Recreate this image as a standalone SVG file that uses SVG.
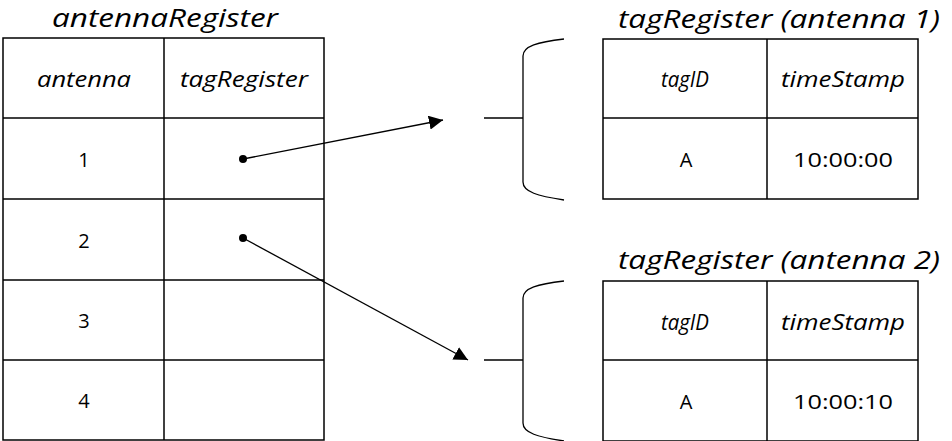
<svg xmlns="http://www.w3.org/2000/svg" width="952" height="441" viewBox="0 0 952 441">
  <style>
    .grid { fill: none; stroke: #000; stroke-width: 1.5; }
    .t { font-family: "Open Sans", "Noto Sans", sans-serif; fill: #000; text-anchor: middle; }
    .it { font-style: italic; }
    .title { font-size: 25px; }
    .hd { font-size: 21px; }
    .cell { font-size: 20px; }
    .wire { fill: none; stroke: #000; stroke-width: 1.3; }
    .brace { fill: none; stroke: #000; stroke-width: 1.3; }
  </style>
  <defs>
    <marker id="arrow" viewBox="0 0 10 10" refX="10" refY="5" markerWidth="14" markerHeight="14" markerUnits="userSpaceOnUse" orient="auto">
      <path d="M0,0 L10,5 L0,10 Z" fill="#000"/>
    </marker>
  </defs>

  <!-- antennaRegister table -->
  <g id="antennaRegister">
    <text class="t it title" x="165" y="27" textLength="226" lengthAdjust="spacingAndGlyphs">antennaRegister</text>
    <rect class="grid" x="3" y="38" width="321" height="402"/>
    <line class="grid" x1="164" y1="38" x2="164" y2="440"/>
    <line class="grid" x1="3" y1="118" x2="324" y2="118"/>
    <line class="grid" x1="3" y1="199" x2="324" y2="199"/>
    <line class="grid" x1="3" y1="280" x2="324" y2="280"/>
    <line class="grid" x1="3" y1="360" x2="324" y2="360"/>
    <text class="t it hd" x="84" y="87" textLength="94" lengthAdjust="spacingAndGlyphs">antenna</text>
    <text class="t it hd" x="244" y="87" textLength="128" lengthAdjust="spacingAndGlyphs">tagRegister</text>
    <text class="t cell" x="84" y="167">1</text>
    <text class="t cell" x="84" y="248">2</text>
    <text class="t cell" x="84" y="328">3</text>
    <text class="t cell" x="84" y="408">4</text>
  </g>

  <!-- tagRegister for antenna 1 -->
  <g id="tagRegister1">
    <text class="t it title" x="779" y="28" textLength="322" lengthAdjust="spacingAndGlyphs">tagRegister (antenna 1)</text>
    <path class="brace" d="M484,118 L523,118 M564,39 C538,42 523,46 523,56 L523,182 C523,192 538,196 564,200"/>
    <rect class="grid" x="603" y="39" width="315" height="160"/>
    <line class="grid" x1="767" y1="39" x2="767" y2="199"/>
    <line class="grid" x1="603" y1="118" x2="918" y2="118"/>
    <text class="t it hd" x="685" y="87" textLength="48" lengthAdjust="spacingAndGlyphs">tagID</text>
    <text class="t it hd" x="843" y="87" textLength="124" lengthAdjust="spacingAndGlyphs">timeStamp</text>
    <text class="t cell" x="686" y="167">A</text>
    <text class="t cell" x="843" y="167" textLength="100" lengthAdjust="spacingAndGlyphs">10:00:00</text>
  </g>

  <!-- tagRegister for antenna 2 -->
  <g id="tagRegister2">
    <text class="t it title" x="779" y="269" textLength="322" lengthAdjust="spacingAndGlyphs">tagRegister (antenna 2)</text>
    <path class="brace" d="M484,360 L523,360 M564,281 C538,284 523,288 523,298 L523,423 C523,433 538,437 564,441"/>
    <rect class="grid" x="603" y="281" width="315" height="160"/>
    <line class="grid" x1="767" y1="281" x2="767" y2="441"/>
    <line class="grid" x1="603" y1="360" x2="918" y2="360"/>
    <text class="t it hd" x="685" y="330" textLength="48" lengthAdjust="spacingAndGlyphs">tagID</text>
    <text class="t it hd" x="843" y="330" textLength="124" lengthAdjust="spacingAndGlyphs">timeStamp</text>
    <text class="t cell" x="686" y="409">A</text>
    <text class="t cell" x="843" y="409" textLength="100" lengthAdjust="spacingAndGlyphs">10:00:10</text>
  </g>

  <!-- pointers from tagRegister cells -->
  <g id="connectors">
    <circle cx="243" cy="159" r="4" fill="#000"/>
    <line class="wire" x1="243" y1="159" x2="443" y2="120" marker-end="url(#arrow)"/>
    <circle cx="243" cy="238" r="4" fill="#000"/>
    <line class="wire" x1="243" y1="238" x2="468" y2="360" marker-end="url(#arrow)"/>
  </g>
</svg>
